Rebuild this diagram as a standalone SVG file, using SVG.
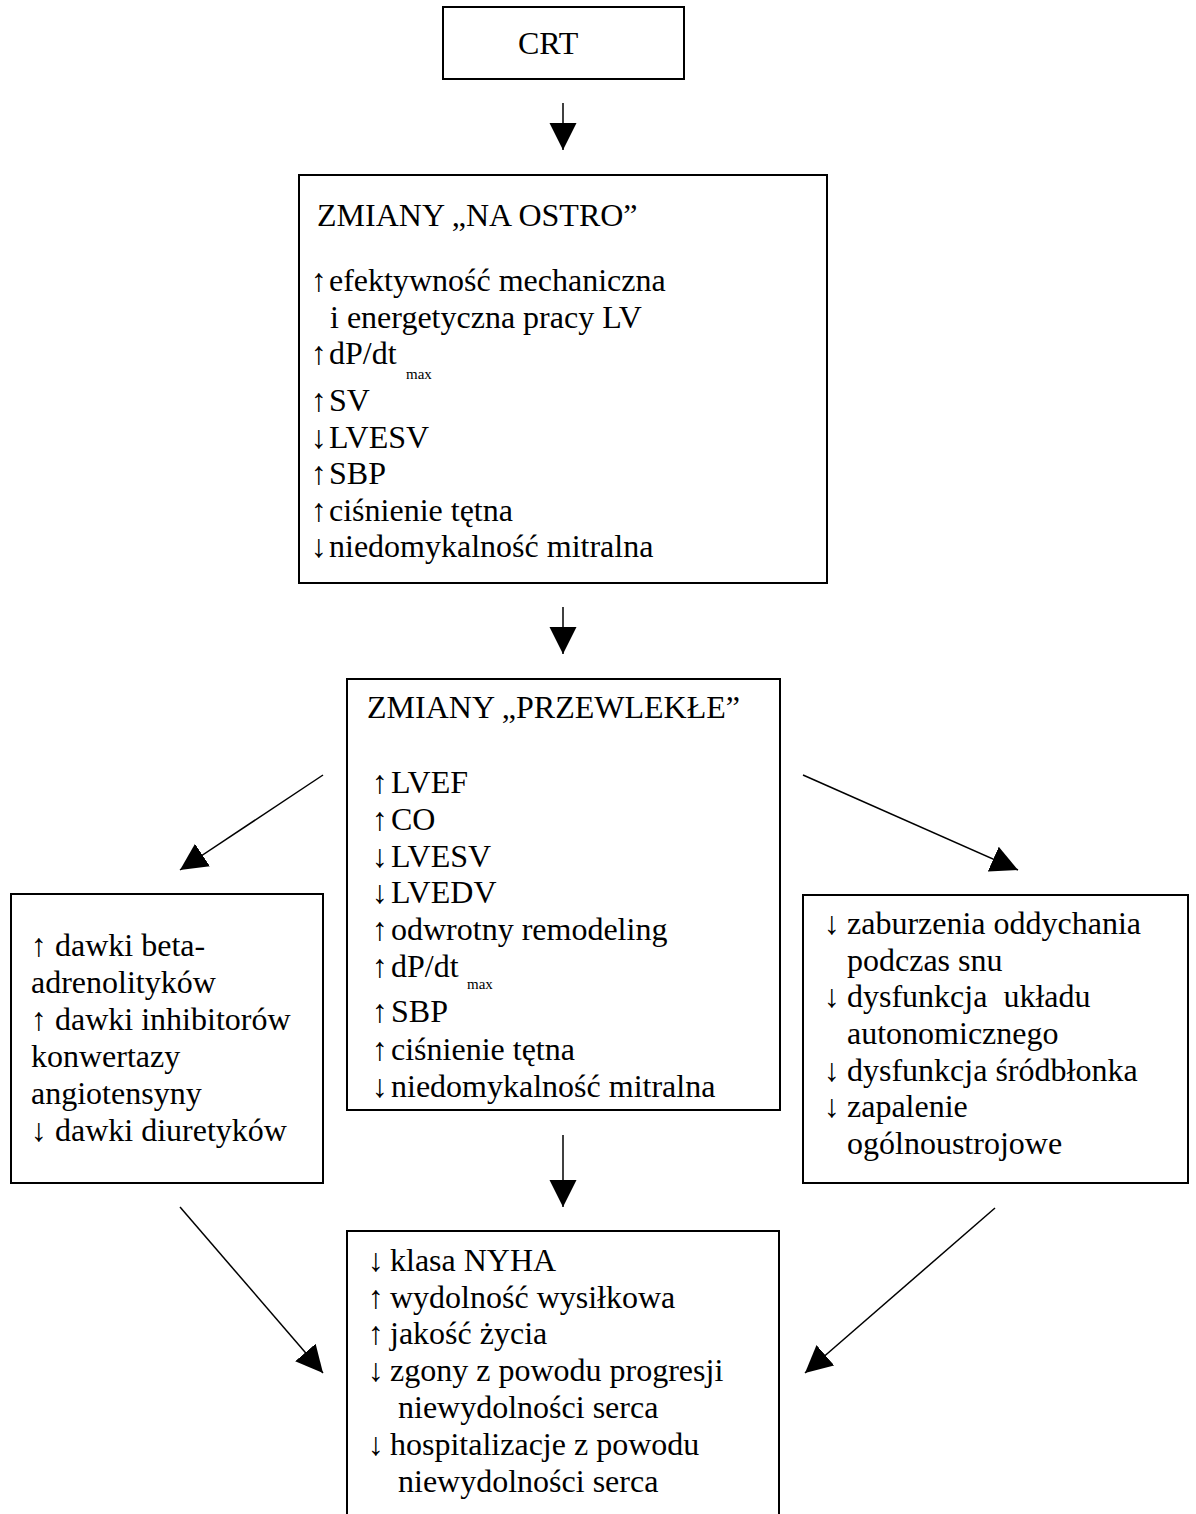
<svg xmlns="http://www.w3.org/2000/svg" width="1196" height="1514" viewBox="0 0 1196 1514">
<style>
.box{fill:#fff;stroke:#000;stroke-width:2}
.t{font-family:"Liberation Serif","Times New Roman",serif;font-size:32px;fill:#000}
.s{font-family:"Liberation Serif","Times New Roman",serif;font-size:15px;fill:#000}
.c{stroke:#000;stroke-width:1.5;fill:none}
</style>
<defs>
<marker id="ah" markerUnits="userSpaceOnUse" markerWidth="28" markerHeight="28" refX="27" refY="13.5" orient="auto">
<path d="M0,0 L27,13.5 L0,27 Z" fill="#000"/>
</marker>
</defs>
<rect width="1196" height="1514" fill="#fff"/>

<g id="crt">
<rect class="box" x="443" y="7" width="241" height="72"/>
<text class="t" x="518" y="54">CRT</text>
</g>

<g id="acute">
<rect class="box" x="299" y="175" width="528" height="408"/>
<text class="t" x="317" y="226">ZMIANY „NA OSTRO”</text>
<text class="t"><tspan x="311" y="291">↑</tspan><tspan x="329" y="291">efektywność mechaniczna</tspan></text>
<text class="t" x="330" y="328">i energetyczna pracy LV</text>
<text class="t"><tspan x="311" y="364">↑</tspan><tspan x="329" y="364">dP/dt</tspan></text>
<text class="s" x="406" y="379">max</text>
<text class="t"><tspan x="311" y="411">↑</tspan><tspan x="329" y="411">SV</tspan></text>
<text class="t"><tspan x="311" y="448">↓</tspan><tspan x="329" y="448">LVESV</tspan></text>
<text class="t"><tspan x="311" y="484">↑</tspan><tspan x="329" y="484">SBP</tspan></text>
<text class="t"><tspan x="311" y="521">↑</tspan><tspan x="329" y="521">ciśnienie tętna</tspan></text>
<text class="t"><tspan x="311" y="557">↓</tspan><tspan x="329" y="557">niedomykalność mitralna</tspan></text>
</g>

<g id="chronic">
<rect class="box" x="347" y="679" width="433" height="431"/>
<text class="t" x="367" y="718">ZMIANY „PRZEWLEKŁE”</text>
<text class="t"><tspan x="372" y="793">↑</tspan><tspan x="391" y="793">LVEF</tspan></text>
<text class="t"><tspan x="372" y="830">↑</tspan><tspan x="391" y="830">CO</tspan></text>
<text class="t"><tspan x="372" y="867">↓</tspan><tspan x="391" y="867">LVESV</tspan></text>
<text class="t"><tspan x="372" y="903">↓</tspan><tspan x="391" y="903">LVEDV</tspan></text>
<text class="t"><tspan x="372" y="940">↑</tspan><tspan x="391" y="940">odwrotny remodeling</tspan></text>
<text class="t"><tspan x="372" y="977">↑</tspan><tspan x="391" y="977">dP/dt</tspan></text>
<text class="s" x="467" y="989">max</text>
<text class="t"><tspan x="372" y="1022">↑</tspan><tspan x="391" y="1022">SBP</tspan></text>
<text class="t"><tspan x="372" y="1060">↑</tspan><tspan x="391" y="1060">ciśnienie tętna</tspan></text>
<text class="t"><tspan x="372" y="1097">↓</tspan><tspan x="391" y="1097">niedomykalność mitralna</tspan></text>
</g>

<g id="drugs">
<rect class="box" x="11" y="894" width="312" height="289"/>
<text class="t"><tspan x="31" y="956">↑</tspan><tspan x="55" y="956">dawki beta-</tspan></text>
<text class="t" x="31" y="993">adrenolityków</text>
<text class="t"><tspan x="31" y="1030">↑</tspan><tspan x="55" y="1030">dawki inhibitorów</tspan></text>
<text class="t" x="31" y="1067">konwertazy</text>
<text class="t" x="31" y="1104">angiotensyny</text>
<text class="t"><tspan x="31" y="1141">↓</tspan><tspan x="55" y="1141">dawki diuretyków</tspan></text>
</g>

<g id="systemic">
<rect class="box" x="803" y="895" width="385" height="288"/>
<text class="t"><tspan x="824" y="934">↓</tspan><tspan x="847" y="934">zaburzenia oddychania</tspan></text>
<text class="t" x="847" y="971">podczas snu</text>
<text class="t"><tspan x="824" y="1007">↓</tspan><tspan x="847" y="1007" xml:space="preserve">dysfunkcja  układu</tspan></text>
<text class="t" x="847" y="1044">autonomicznego</text>
<text class="t"><tspan x="824" y="1081">↓</tspan><tspan x="847" y="1081">dysfunkcja śródbłonka</tspan></text>
<text class="t"><tspan x="824" y="1117">↓</tspan><tspan x="847" y="1117">zapalenie</tspan></text>
<text class="t" x="847" y="1154">ogólnoustrojowe</text>
</g>

<g id="outcomes">
<rect class="box" x="347" y="1231" width="432" height="320"/>
<text class="t"><tspan x="368" y="1271">↓</tspan><tspan x="390" y="1271">klasa NYHA</tspan></text>
<text class="t"><tspan x="368" y="1308">↑</tspan><tspan x="390" y="1308">wydolność wysiłkowa</tspan></text>
<text class="t"><tspan x="368" y="1344">↑</tspan><tspan x="390" y="1344">jakość życia</tspan></text>
<text class="t"><tspan x="368" y="1381">↓</tspan><tspan x="390" y="1381">zgony z powodu progresji</tspan></text>
<text class="t" x="398" y="1418">niewydolności serca</text>
<text class="t"><tspan x="368" y="1455">↓</tspan><tspan x="390" y="1455">hospitalizacje z powodu</tspan></text>
<text class="t" x="398" y="1492">niewydolności serca</text>
</g>

<g id="connectors">
<line class="c" x1="563" y1="103" x2="563" y2="150" marker-end="url(#ah)"/>
<line class="c" x1="563" y1="607" x2="563" y2="654" marker-end="url(#ah)"/>
<line class="c" x1="323" y1="775" x2="180" y2="870" marker-end="url(#ah)"/>
<line class="c" x1="803" y1="775" x2="1018" y2="870" marker-end="url(#ah)"/>
<line class="c" x1="563" y1="1135" x2="563" y2="1207" marker-end="url(#ah)"/>
<line class="c" x1="180" y1="1207" x2="323" y2="1373" marker-end="url(#ah)"/>
<line class="c" x1="995" y1="1208" x2="805" y2="1373" marker-end="url(#ah)"/>
</g>
</svg>
